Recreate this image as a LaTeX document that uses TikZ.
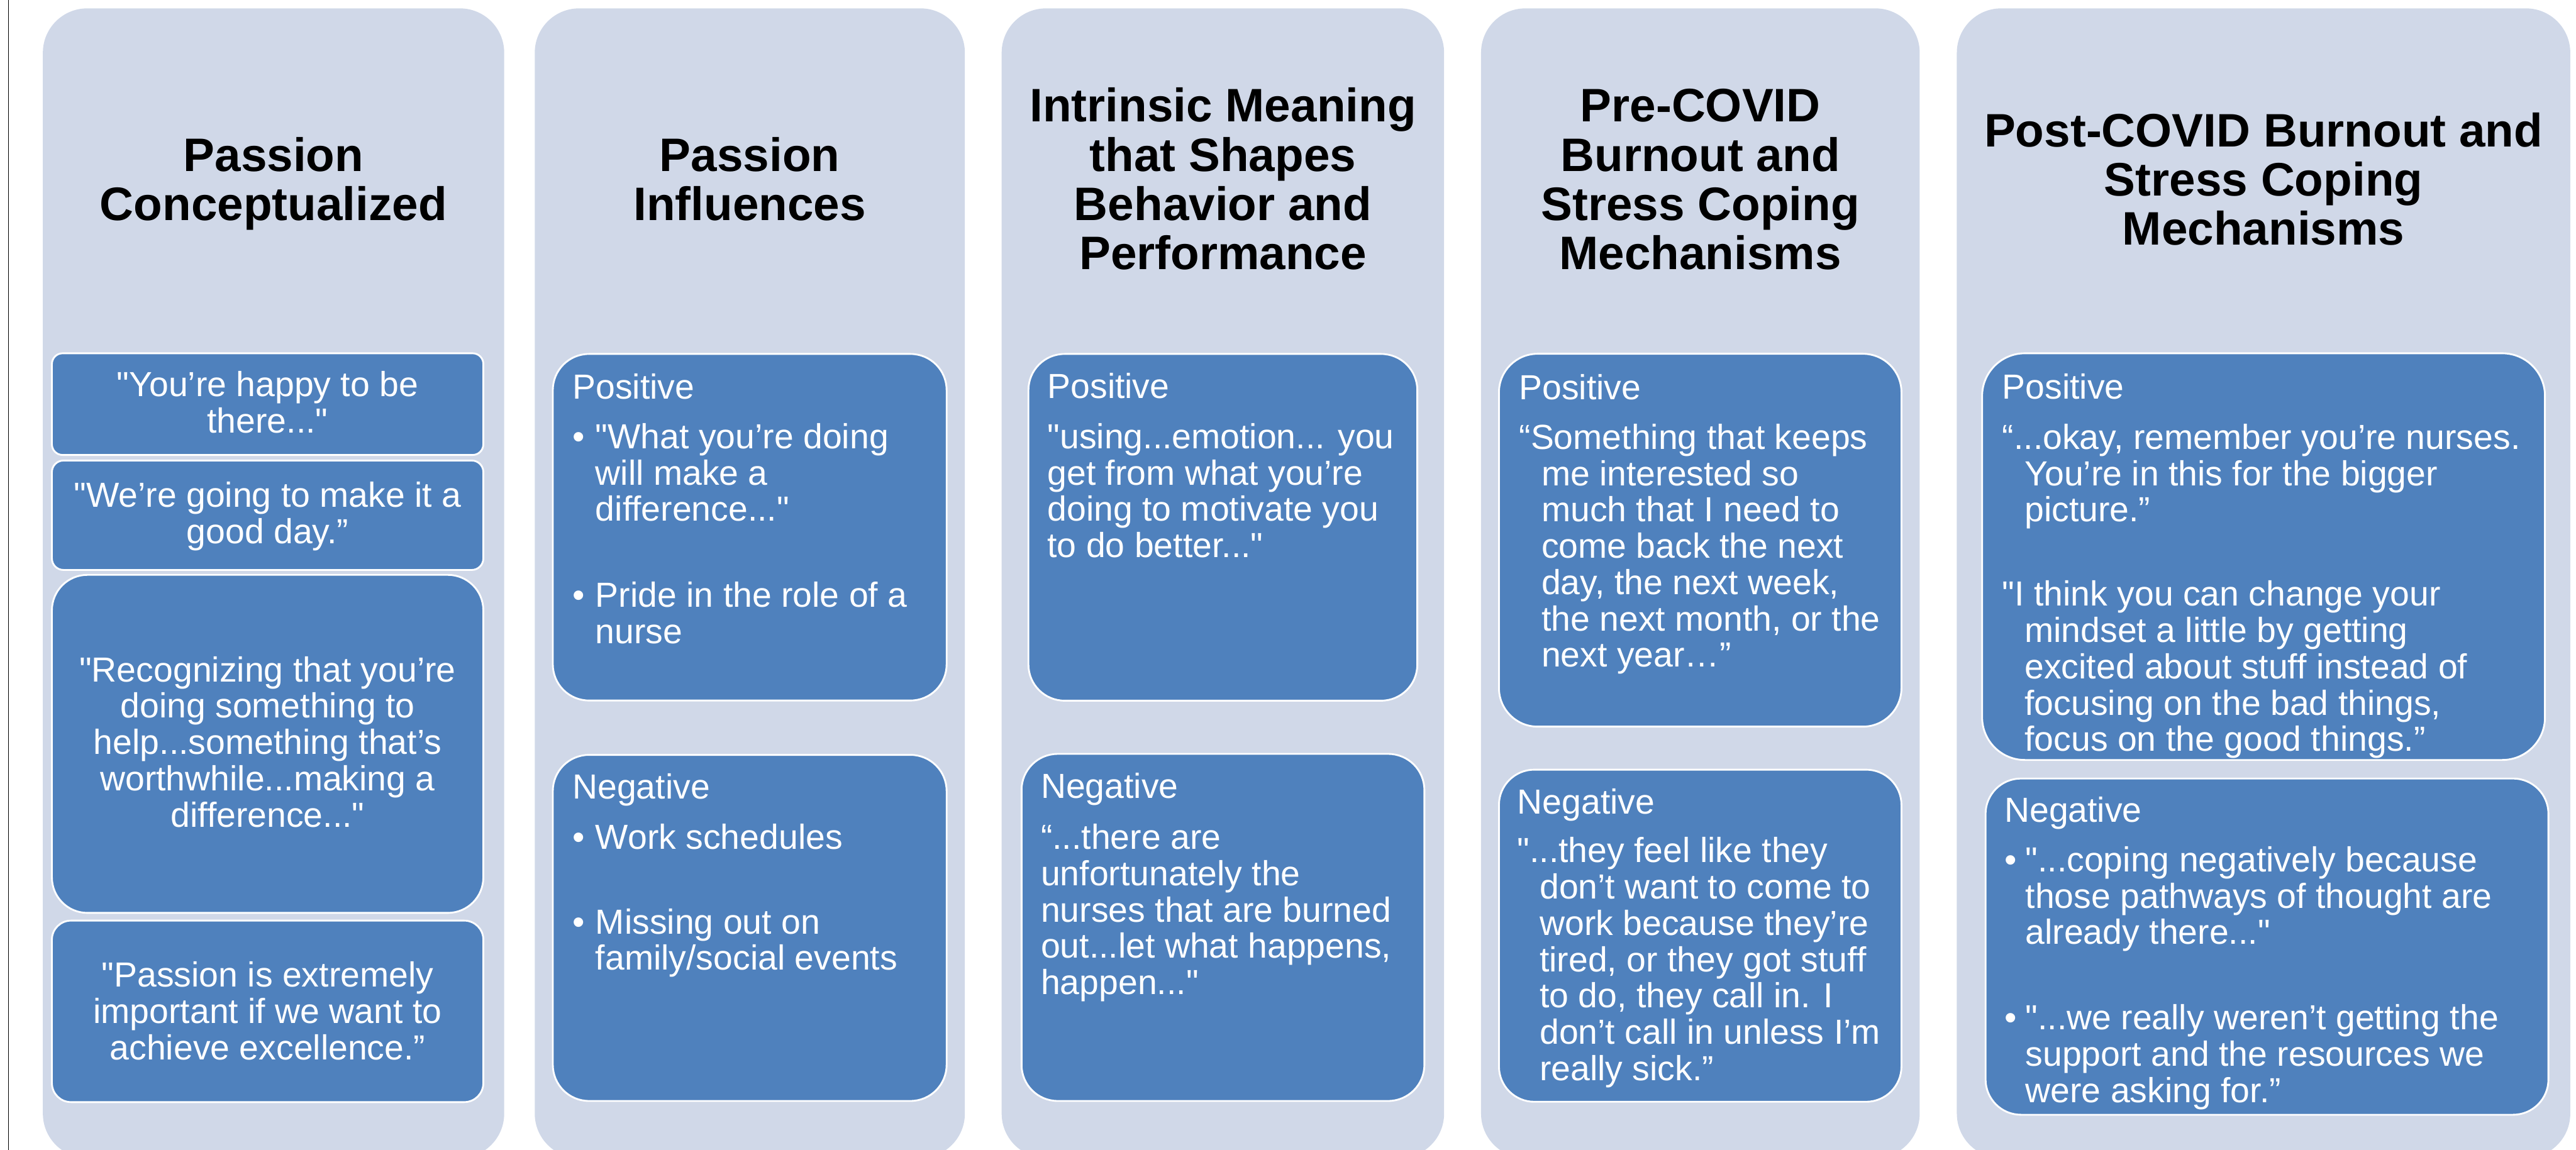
\documentclass[tikz,border=0pt]{standalone}
\usepackage{fontspec}
% straight quotes must stay straight, so the TeX input mapping is switched off
\setmainfont{Liberation Sans}[Ligatures=TeXOff]

\definecolor{panelfill}{RGB}{208,216,232}
\definecolor{boxfill}{RGB}{79,129,189}

% type sizes: headings and box texts
\newcommand{\headfont}{\fontsize{28.6pt}{30pt}\selectfont\bfseries\lineskiplimit=-100pt\relax}
\newcommand{\bodyfont}{\fontsize{21.2pt}{22.1pt}\selectfont\lineskiplimit=-100pt\relax}
% fixed first-line heights, so a node's top sits a known distance above its first baseline
\newcommand{\headstrut}{\rule{0pt}{24pt}}
\newcommand{\bodystrut}{\rule{0pt}{17pt}}
% bullets and hanging indents
\newcommand{\bulletmark}[1][14pt]{\makebox[#1][l]{•}}
\newcommand{\hangind}[1][13.6pt]{\hspace*{#1}}

\tikzset{
  panel/.style={fill=panelfill, draw=none, rounded corners=27pt, anchor=north west,
                inner sep=0pt, outer sep=0pt, minimum height=699.9pt},
  quotebox/.style={fill=boxfill, draw=white, line width=1.1pt, anchor=north west,
                   inner sep=0pt, outer sep=0pt},
  headtext/.style={anchor=north, inner sep=0pt, align=center, font=\headfont, text=black},
  bodyc/.style={anchor=north, inner sep=0pt, align=center, font=\bodyfont, text=white},
  bodyl/.style={anchor=north west, inner sep=0pt, align=left, font=\bodyfont, text=white},
  frameline/.style={draw=black, line width=0.6pt},
}

\begin{document}
\begin{tikzpicture}[x=1pt, y=-1pt]
\useasboundingbox (0,0) rectangle (1568,700);
\clip (0,0) rectangle (1568,700);

% left frame rule
\coordinate (frametop) at (5.1,0);
\coordinate (framebot) at (5.1,700);
\draw[frameline] (frametop) -- (framebot);

% column panels
\node[panel, minimum width=280.8pt] (col1) at (26.1,5.1) {};
\node[panel, minimum width=261.8pt] (col2) at (325.5,5.1) {};
\node[panel, minimum width=269.3pt] (col3) at (609.7,5.1) {};
\node[panel, minimum width=267.0pt] (col4) at (901.5,5.1) {};
\node[panel, minimum width=373.4pt] (col5) at (1191.1,5.1) {};

% column headings
\node[headtext] (head1) at (166.5,80) {\headstrut Passion\\Conceptualized};
\node[headtext] (head2) at (456.4,80) {\headstrut Passion\\Influences};
\node[headtext] (head3) at (744.4,50) {\headstrut Intrinsic Meaning\\that Shapes\\Behavior and\\Performance};
\node[headtext] (head4) at (1035.0,50) {\headstrut Pre-COVID\\Burnout and\\Stress Coping\\Mechanisms};
\node[headtext] (head5) at (1377.8,65) {\headstrut Post-COVID Burnout and\\Stress Coping\\Mechanisms};

% column 1: quotes
\node[quotebox, rounded corners=6.5pt, minimum width=262.6pt, minimum height=61.9pt] (box1a) at (31.6,215.1) {};
\node[quotebox, rounded corners=7pt, minimum width=262.6pt, minimum height=66.6pt] (box1b) at (31.6,280.4) {};
\node[quotebox, rounded corners=21.6pt, minimum width=262.6pt, minimum height=205.8pt] (box1c) at (31.6,350.0) {};
\node[quotebox, rounded corners=11.6pt, minimum width=262.6pt, minimum height=110.5pt] (box1d) at (31.6,560.5) {};

\node[bodyc] (txt1a) at (162.9,224.3) {\bodystrut "You’re happy to be\\there..."};
\node[bodyc] (txt1b) at (162.9,291.5) {\bodystrut "We’re going to make it a\\good day.”};
\node[bodyc] (txt1c) at (162.9,397.8) {\bodystrut "Recognizing that you’re\\doing something to\\help...something that’s\\worthwhile...making a\\difference..."};
\node[bodyc] (txt1d) at (162.9,583.8) {\bodystrut "Passion is extremely\\important if we want to\\achieve excellence.”};

% column 2
\node[quotebox, rounded corners=22pt, minimum width=239.7pt, minimum height=211.0pt] (box2p) at (336.5,215.5) {};
\node[quotebox, rounded corners=22pt, minimum width=239.7pt, minimum height=210.7pt] (box2n) at (336.5,459.6) {};

\node[bodyl] (txt2p) at (348.3,225.6) {\bodystrut Positive\\[8.2pt]\bulletmark"What you’re doing\\\hangind[14pt]will make a\\\hangind[14pt]difference..."\\[30.2pt]\bulletmark Pride in the role of a\\\hangind[14pt]nurse};
\node[bodyl] (txt2n) at (348.3,469.3) {\bodystrut Negative\\[8.2pt]\bulletmark Work schedules\\[29.6pt]\bulletmark Missing out on\\\hangind[14pt]family/social events};

% column 3
\node[quotebox, rounded corners=22pt, minimum width=236.7pt, minimum height=211.1pt] (box3p) at (626.0,215.5) {};
\node[quotebox, rounded corners=22pt, minimum width=245.2pt, minimum height=211.3pt] (box3n) at (621.8,459.0) {};

\node[bodyl] (txt3p) at (637.4,225.5) {\bodystrut Positive\\[8.3pt]"using...emotion... you\\get from what you’re\\doing to motivate you\\to do better..."};
\node[bodyl] (txt3n) at (633.4,468.9) {\bodystrut Negative\\[8.8pt]“...there are\\unfortunately the\\nurses that are burned\\out...let what happens,\\happen..."};

% column 4
\node[quotebox, rounded corners=23.5pt, minimum width=245.0pt, minimum height=227.0pt] (box4p) at (912.4,215.4) {};
\node[quotebox, rounded corners=21.5pt, minimum width=245.0pt, minimum height=202.2pt] (box4n) at (912.4,468.6) {};

\node[bodyl] (txt4p) at (924.5,226.0) {\bodystrut Positive\\[8.2pt]“Something that keeps\\\hangind me interested so\\\hangind much that I need to\\\hangind come back the next\\\hangind day, the next week,\\\hangind the next month, or the\\\hangind next year…”};
\node[bodyl] (txt4n) at (923.4,478.4) {\bodystrut Negative\\[7.5pt]"...they feel like they\\\hangind don’t want to come to\\\hangind work because they’re\\\hangind tired, or they got stuff\\\hangind to do, they call in. I\\\hangind don’t call in unless I’m\\\hangind really sick.”};

% column 5
\node[quotebox, rounded corners=26pt, minimum width=342.6pt, minimum height=247.6pt] (box5p) at (1206.5,215.1) {};
\node[quotebox, rounded corners=21.5pt, minimum width=342.6pt, minimum height=204.7pt] (box5n) at (1208.6,474.0) {};

\node[bodyl] (txt5p) at (1218.6,225.8) {\bodystrut Positive\\[8.4pt]“...okay, remember you’re nurses.\\\hangind You’re in this for the bigger\\\hangind picture.”\\[29.2pt]"I think you can change your\\\hangind mindset a little by getting\\\hangind excited about stuff instead of\\\hangind focusing on the bad things,\\\hangind focus on the good things.”};
\node[bodyl] (txt5n) at (1219.9,483.5) {\bodystrut Negative\\[7.9pt]\bulletmark[12.8pt]"...coping negatively because\\\hangind[12.8pt]those pathways of thought are\\\hangind[12.8pt]already there..."\\[29.9pt]\bulletmark[12.8pt]"...we really weren’t getting the\\\hangind[12.8pt]support and the resources we\\\hangind[12.8pt]were asking for.”};
\end{tikzpicture}
\end{document}
